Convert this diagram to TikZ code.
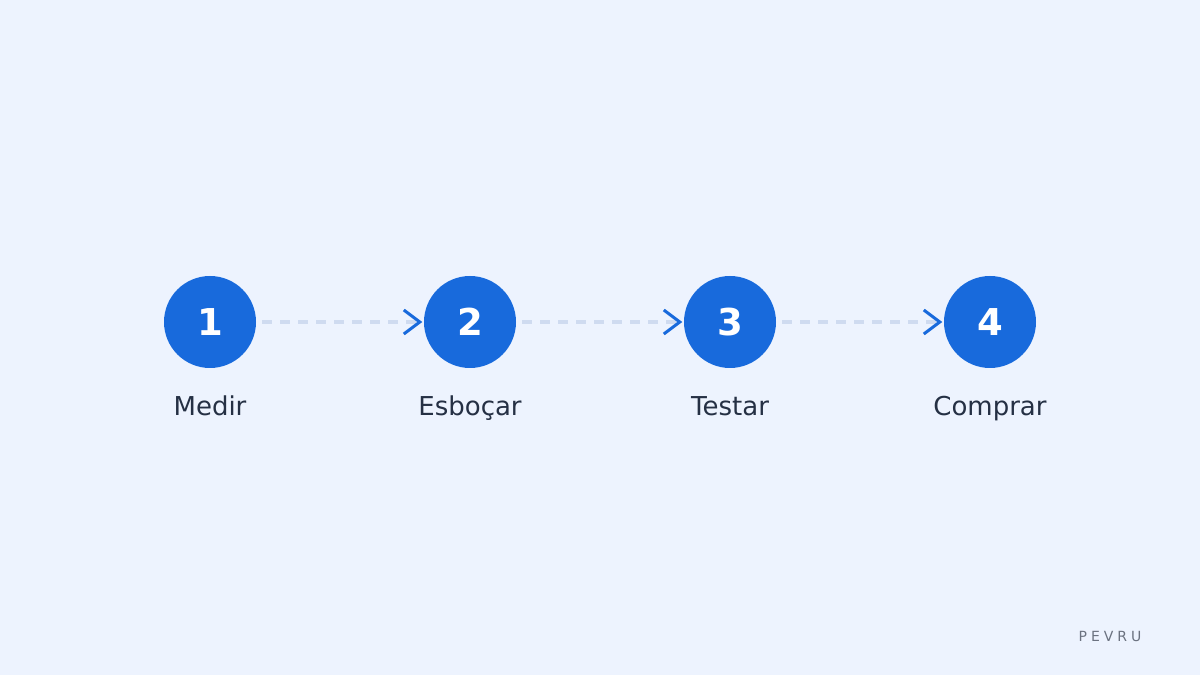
\documentclass[tikz,border=0pt]{standalone}
\usepackage{fontspec}
\setmainfont{DejaVu Sans}
\definecolor{bg}{HTML}{EDF3FE}
\definecolor{stepblue}{HTML}{186ADC}
\definecolor{dashcol}{HTML}{CFDBF0}
\definecolor{labelcol}{HTML}{253044}
\definecolor{markcol}{HTML}{6B7280}
\tikzset{
  stepcircle/.style={circle,fill=stepblue,minimum size=92pt,inner sep=0pt,text=white,font=\fontsize{37}{40}\selectfont\bfseries},
  steplabel/.style={text=labelcol,anchor=base,inner sep=0pt,font=\fontsize{26}{30}\selectfont},
  link/.style={draw=dashcol,line width=3.5pt,dash pattern=on 10pt off 8pt},
  chev/.style={draw=stepblue,line width=3pt},
}
\begin{document}
\begin{tikzpicture}[x=1pt,y=1pt]
\fill[bg] (0,0) rectangle (1200,675);
\useasboundingbox (0,0) rectangle (1200,675);
\foreach \i/\x/\t in {1/210/Medir,2/470/Esboçar,3/730/Testar,4/990/Comprar}{
  \node[stepcircle] (c\i) at (\x,353) {\i};
  \node[steplabel] (l\i) at (\x,259) {\t};
}
\foreach \a/\b in {1/2,2/3,3/4}{
  \coordinate (s\a) at ([xshift=6pt]c\a.east);
  \coordinate (e\a) at ([xshift=-8pt]c\b.west);
  \draw[link] (s\a) -- (e\a);
  \draw[chev] ([shift={(-20pt,12pt)}]c\b.west) -- ([xshift=-4pt]c\b.west) -- ([shift={(-20pt,-12pt)}]c\b.west);
}
\node[text=markcol,font=\fontsize{14}{16}\selectfont] (mark) at (1110,39) {P\hspace{4pt}E\hspace{4pt}V\hspace{4pt}R\hspace{4pt}U};
\end{tikzpicture}
\end{document}
